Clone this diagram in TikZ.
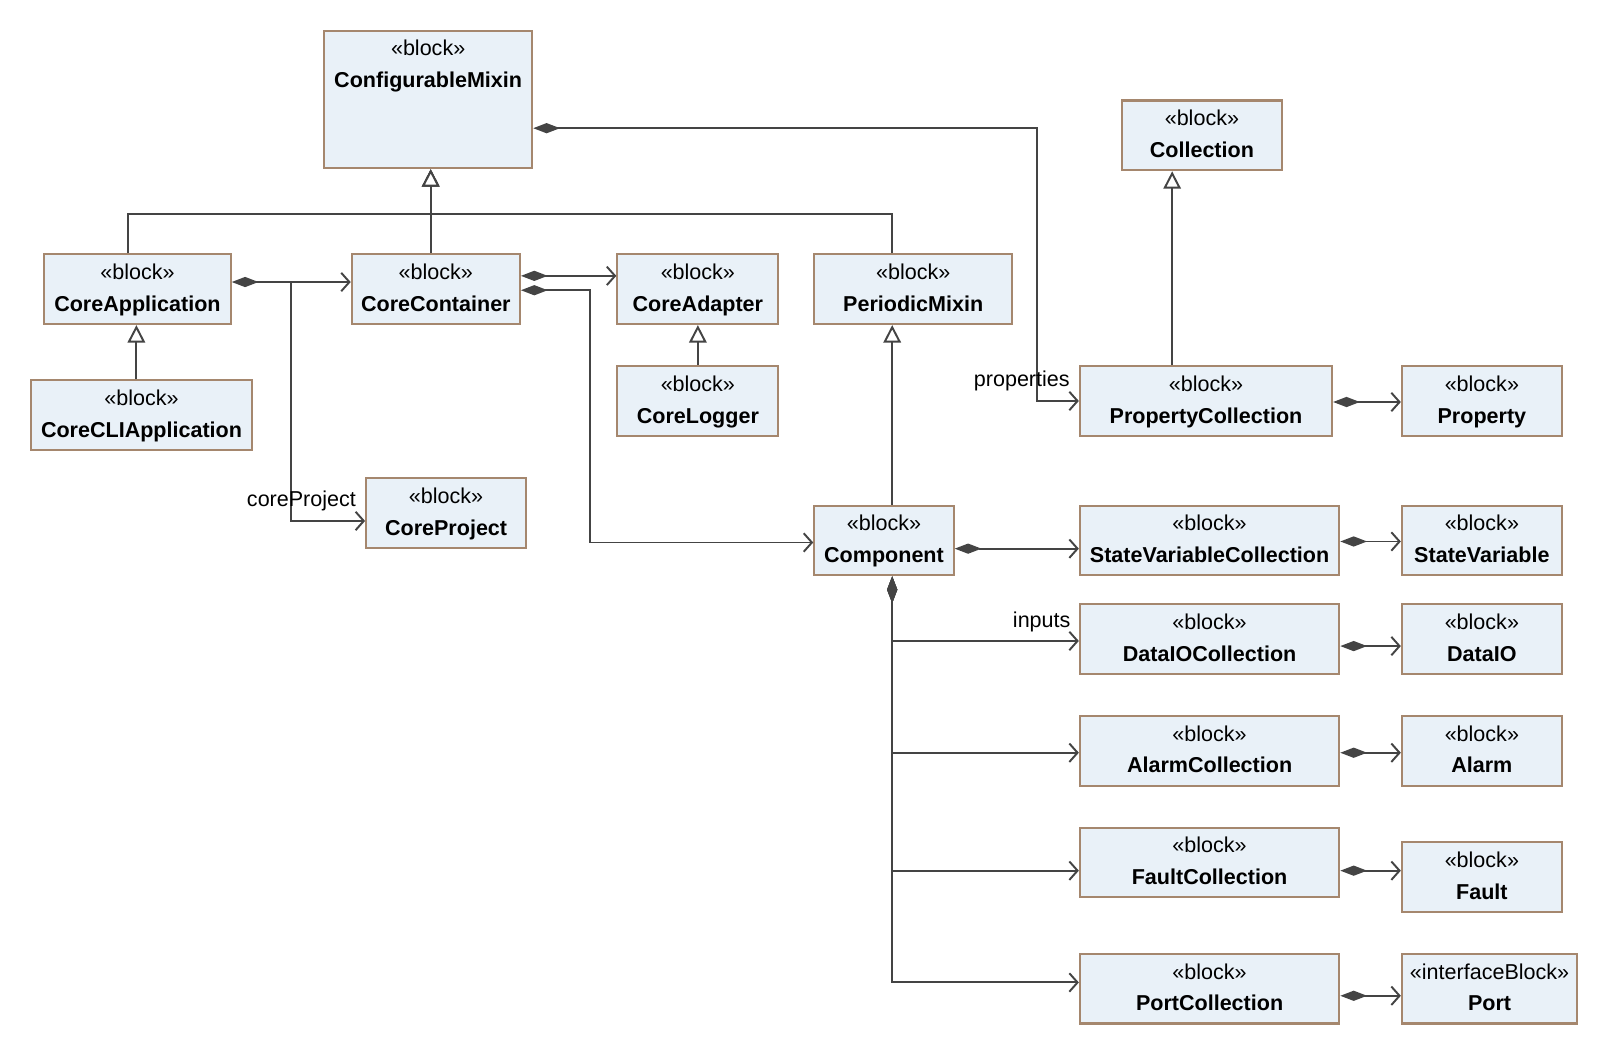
\documentclass[tikz,border=0pt]{standalone}
\usepackage{fontspec}
\setmainfont{Liberation Sans}
\usetikzlibrary{arrows.meta,calc}
\definecolor{blkFill} {RGB}{233, 241, 248}
\definecolor{blkEdge} {RGB}{165, 135, 110}
\definecolor{lineGray}{RGB}{ 68,  68,  68}

\tikzset{
  blkbox/.style={draw=blkEdge,fill=blkFill,line width=2pt,align=center,
    inner xsep=2pt,inner ysep=3pt,minimum height=68pt,
    font=\fontsize{21}{31}\selectfont},
  blktitle/.style={anchor=north,align=center,inner xsep=2pt,inner ysep=3pt,
    font=\fontsize{21}{31}\selectfont},
  gen/.style={draw=lineGray,line width=1.9pt,
    -{Triangle[open,length=17pt,width=17pt,fill=white]}},
  compos/.style={draw=lineGray,line width=1.9pt,
    {Diamond[length=26pt,width=10pt]}-{Straight Barb[length=8pt,width=18pt]}},
  assoc/.style={draw=lineGray,line width=1.9pt,
    -{Straight Barb[length=8pt,width=18pt]}},
  rolelbl/.style={anchor=south east,inner sep=3pt,xshift=-5pt,yshift=6pt,
    font=\fontsize{21}{25}\selectfont},
}

\begin{document}
\begin{tikzpicture}[x=1pt,y=-1pt]
    \useasboundingbox (0,0) rectangle (1568,1028);

    % ── top row ──────────────────────────────────────────
    \node[blkbox,minimum width=203pt,minimum height=134pt,
          label={[blktitle]north:\strut«block»\\\strut\textbf{ConfigurableMixin}}]
          (cfgMix) at (417.5,97){};
    \node[blkbox,minimum width=156pt] (coll) at (1172,132)
          {\strut«block»\\\strut\textbf{Collection}};

    % ── core blocks ──────────────────────────────────────
    \node[blkbox,minimum width=182pt] (coreApp) at (134,282)
          {\strut«block»\\\strut\textbf{CoreApplication}};
    \node[blkbox,minimum width=164pt] (coreCont) at (425,282)
          {\strut«block»\\\strut\textbf{CoreContainer}};
    \node[blkbox,minimum width=157pt] (coreAdp) at (680.5,282)
          {\strut«block»\\\strut\textbf{CoreAdapter}};
    \node[blkbox,minimum width=193pt] (perMix) at (890.5,282)
          {\strut«block»\\\strut\textbf{PeriodicMixin}};
    \node[blkbox,minimum width=216pt] (coreCli) at (138,405)
          {\strut«block»\\\strut\textbf{CoreCLIApplication}};
    \node[blkbox,minimum width=157pt] (coreLog) at (680.5,391)
          {\strut«block»\\\strut\textbf{CoreLogger}};
    \node[blkbox,minimum width=156pt] (coreProj) at (435,500)
          {\strut«block»\\\strut\textbf{CoreProject}};
    \node[blkbox,minimum width=136pt] (compo) at (862,527)
          {\strut«block»\\\strut\textbf{Component}};

    % ── collections ──────────────────────────────────────
    \node[blkbox,minimum width=246pt] (propColl) at (1176,391)
          {\strut«block»\\\strut\textbf{PropertyCollection}};
    \node[blkbox,minimum width=253pt] (svColl) at (1179.5,527)
          {\strut«block»\\\strut\textbf{StateVariableCollection}};
    \node[blkbox,minimum width=253pt] (dioColl) at (1179.5,623)
          {\strut«block»\\\strut\textbf{DataIOCollection}};
    \node[blkbox,minimum width=253pt] (almColl) at (1179.5,732)
          {\strut«block»\\\strut\textbf{AlarmCollection}};
    \node[blkbox,minimum width=253pt] (fltColl) at (1179.5,841)
          {\strut«block»\\\strut\textbf{FaultCollection}};
    \node[blkbox,minimum width=253pt] (portColl) at (1179.5,964)
          {\strut«block»\\\strut\textbf{PortCollection}};

    % ── elements ─────────────────────────────────────────
    \node[blkbox,minimum width=156pt] (prop) at (1445,391)
          {\strut«block»\\\strut\textbf{Property}};
    \node[blkbox,minimum width=156pt] (stVar) at (1445,527)
          {\strut«block»\\\strut\textbf{StateVariable}};
    \node[blkbox,minimum width=156pt] (dataIO) at (1445,623)
          {\strut«block»\\\strut\textbf{DataIO}};
    \node[blkbox,minimum width=156pt] (alarm) at (1445,732)
          {\strut«block»\\\strut\textbf{Alarm}};
    \node[blkbox,minimum width=156pt] (fault) at (1445,855)
          {\strut«block»\\\strut\textbf{Fault}};
    \node[blkbox,minimum width=171pt] (port) at (1452.5,964)
          {\strut«interfaceBlock»\\\strut\textbf{Port}};

    % ── generalizations ──────────────────────────────────
    \draw[gen] ($(coreCont.north)+(-5,0)$) -- ($(cfgMix.south)+(2.5,0)$);
    \draw[gen] ($(coreApp.north)+(-9,0)$) |- ($(cfgMix.south)+(2.5,44)$)
               -- ($(cfgMix.south)+(2.5,0)$);
    \draw[gen] ($(perMix.north)+(-20.5,0)$) |- ($(cfgMix.south)+(2.5,44)$)
               -- ($(cfgMix.south)+(2.5,0)$);
    \draw[gen] ($(coreCli.north)+(-5,0)$) -- ($(coreApp.south)+(-1,0)$);
    \draw[gen] (coreLog.north) -- (coreAdp.south);
    \draw[gen] ($(compo.north)+(8,0)$) -- ($(perMix.south)+(-20.5,0)$);
    \draw[gen] ($(propColl.north)+(-33,0)$) -- ($(coll.south)+(-29,0)$);

    % ── compositions / associations ──────────────────────
    \draw[compos] ($(cfgMix.east)+(0,28)$) -| ($(propColl.west)+(-41,0)$)
                  -- (propColl.west) node[rolelbl] (lblProps){properties};
    \draw[compos] ($(coreApp.east)+(0,-7)$) -- ($(coreCont.west)+(0,-7)$);
    \coordinate (appJn) at ($(coreApp.east)+(58,-7)$);
    \draw[assoc] (appJn) |- ($(coreProj.west)+(0,8)$)
                 node[rolelbl] (lblProj){coreProject};
    \draw[compos] ($(coreCont.east)+(0,-13)$) -- ($(coreAdp.west)+(0,-13)$);
    \draw[compos] ($(coreCont.east)+(0,1)$) -| ($(compo.west)+(-218,2)$)
                  -- ($(compo.west)+(0,2)$);
    \draw[compos] ($(compo.east)+(0,8)$) -- ($(svColl.west)+(0,8)$);
    \foreach \c/\dy in {dioColl/2,almColl/2,fltColl/8,portColl/-6}{
      \draw[compos] ($(compo.south)+(8,0)$) |- ($(\c.west)+(0,\dy)$);
    }
    \path ($(dioColl.west)+(0,2)$) node[rolelbl] (lblInp){inputs};

    % collection -> element
    \foreach \a/\b/\da/\db in {propColl/prop/1/1,svColl/stVar/1/1,
        dioColl/dataIO/7/7,almColl/alarm/2/2,fltColl/fault/8/-6,
        portColl/port/7/7}{
      \draw[compos] ($(\a.east)+(0,\da)$) -- ($(\b.west)+(0,\db)$);
    }

\end{tikzpicture}
\end{document}
